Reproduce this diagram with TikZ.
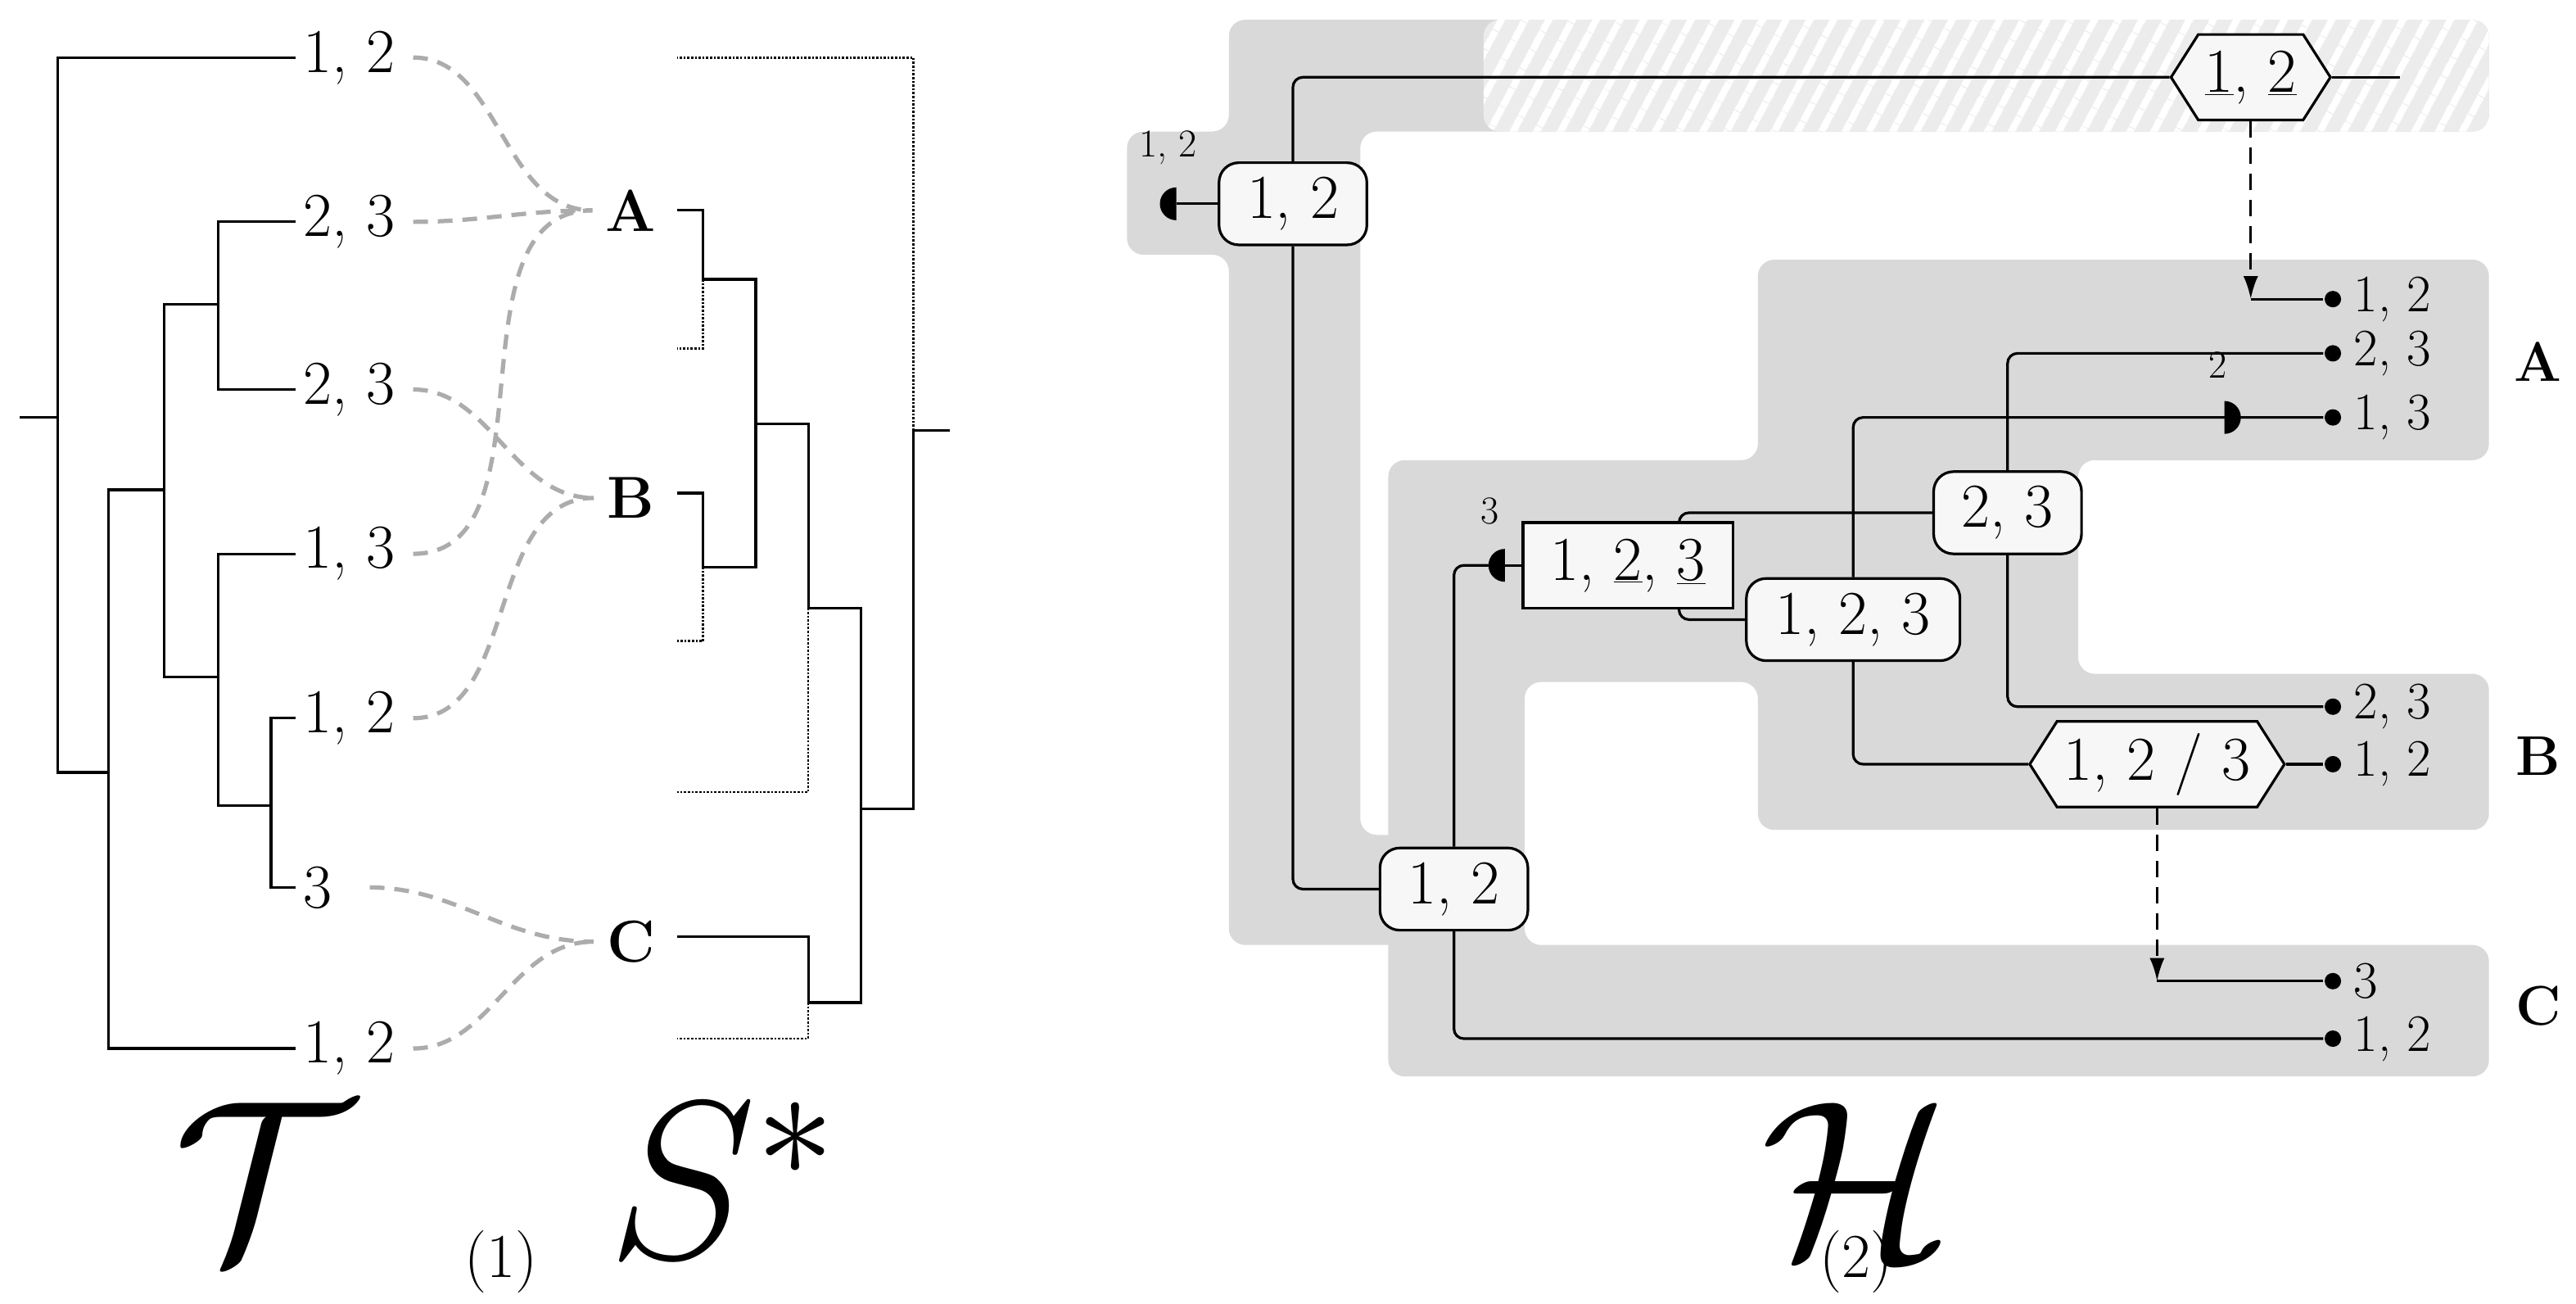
\RequirePackage{fix-cm}
\documentclass[tikz,border=0pt]{standalone}
\usepackage{graphicx}
\usetikzlibrary{shapes.symbols,patterns.meta,arrows.meta}
\definecolor{hostgray}{HTML}{D9D9D9}
\definecolor{hatchgray}{HTML}{ECECEC}
\definecolor{nodefill}{HTML}{F7F7F7}
\begin{document}
\begin{tikzpicture}[x=1pt,y=-1pt,line width=1.6pt,
  every node/.style={font=\fontsize{38}{44}\selectfont},
  small/.style={font=\fontsize{24}{30}\selectfont},
  leaf/.style={anchor=west,inner sep=4pt},
  gdash/.style={draw=gray!65,line width=2.6pt,dash pattern=on 9pt off 6pt,shorten <=6pt,shorten >=4pt},
  dot/.style={densely dotted,line width=1.3pt},
  rbox/.style={draw,fill=nodefill,rounded corners=12pt,minimum height=50pt,inner xsep=10pt},
  hexa/.style={draw,fill=nodefill,signal,signal to=east and west,signal pointer angle=115,minimum height=52pt,inner xsep=4pt},
  ln/.style={rounded corners=6pt},
  dotend/.style={circle,fill,inner sep=0pt,minimum size=10pt}]
\useasboundingbox (0,0) rectangle (1568,793);

% ---------------- panel (1) ----------------
\node[leaf] (t1) at (180,35) {1, 2};
\node[leaf] (t2) at (180,135) {2, 3};
\node[leaf] (t3) at (180,237) {2, 3};
\node[leaf] (t4) at (180,337) {1, 3};
\node[leaf] (t5) at (180,437) {1, 2};
\node[leaf] (t6) at (180,540) {3};
\node[leaf] (t7) at (180,638) {1, 2};
\coordinate (rt) at (12,254);
\coordinate (n0) at (35,254);
\coordinate (n1) at (66,470);
\coordinate (n2) at (100,298);
\coordinate (n3) at (133,185);
\coordinate (n4) at (133,412);
\coordinate (n5) at (165,490);
\draw (rt) -- (n0);
\draw (t1.west) -| (n0);
\draw (n0) |- (n1);
\draw (n1) |- (t7.west);
\draw (n1) |- (n2);
\draw (n2) |- (n3);
\draw (n2) |- (n4);
\draw (n3) |- (t2.west);
\draw (n3) |- (t3.west);
\draw (n4) |- (t4.west);
\draw (n4) |- (n5);
\draw (n5) |- (t5.west);
\draw (n5) |- (t6.west);

\node[font=\bfseries\fontsize{36}{44}\selectfont] (A) at (384,128) {A};
\node[font=\bfseries\fontsize{36}{44}\selectfont] (B) at (384,303) {B};
\node[font=\bfseries\fontsize{36}{44}\selectfont] (C) at (384,573) {C};

\draw[gdash] (t1.east) to[out=0,in=180] (A.west);
\draw[gdash] (t2.east) to[out=0,in=180] (A.west);
\draw[gdash] (t3.east) to[out=0,in=180] (B.west);
\draw[gdash] (t4.east) to[out=0,in=180] (A.west);
\draw[gdash] (t5.east) to[out=0,in=180] (B.west);
\draw[gdash] ([xshift=12pt]t6.east) to[out=0,in=180] (C.west);
\draw[gdash] (t7.east) to[out=0,in=180] (C.west);

% S* tree
\coordinate (sA) at (412,128);
\coordinate (sB) at (412,300);
\coordinate (sC) at (412,570);
\coordinate (a1) at (428,170);
\coordinate (b1) at (428,345);
\coordinate (q1) at (460,258);
\coordinate (q2) at (492,370);
\coordinate (c1) at (492,610);
\coordinate (q3) at (524,492);
\coordinate (q4) at (556,262);
\coordinate (q5) at (578,262);
\coordinate (dA) at (412,212);
\coordinate (dB) at (412,390);
\coordinate (dq) at (412,482);
\coordinate (dC) at (412,632);
\coordinate (dT) at (412,35);
\draw (sA) -| (a1);
\draw (sB) -| (b1);
\draw (sC) -| (c1);
\draw (a1) -| (q1);
\draw (b1) -| (q1);
\draw (q1) -| (q2);
\draw (q2) -| (q3);
\draw (c1) -| (q3);
\draw (q3) -| (q4);
\draw (q4) -- (q5);
\draw[dot] (a1) |- (dA);
\draw[dot] (b1) |- (dB);
\draw[dot] (q2) |- (dq);
\draw[dot] (c1) |- (dC);
\draw[dot] (q4) |- (dT);

\node (lT) at (160,718) {\scalebox{3.6}{$\mathcal{T}$}};
\node (lS) at (440,718) {\scalebox{3.6}{$S^{*}$}};
\node (l1) at (305,768) {(1)};

% ---------------- panel (2) ----------------
\fill[hostgray,rounded corners=10pt]
  (748,12) -- (1515,12) -- (1515,80) -- (828,80) -- (828,508) -- (860,508) -- (860,575)
  -- (748,575) -- (748,155) -- (686,155) -- (686,80) -- (748,80) -- cycle;
\fill[hatchgray,rounded corners=10pt] (903,12) -- (1515,12) -- (1515,80) -- (903,80) -- cycle;
\begin{scope}
\clip[rounded corners=10pt] (903,12) -- (1515,12) -- (1515,80) -- (903,80) -- cycle;
\fill[pattern={Lines[angle=62,distance=13pt,line width=4.5pt]},pattern color=white] (903,12) rectangle (1515,80);
\end{scope}
\fill[hostgray,rounded corners=10pt]
  (845,280) -- (1070,280) -- (1070,158) -- (1515,158) -- (1515,280) -- (1265,280)
  -- (1265,410) -- (1515,410) -- (1515,505) -- (1070,505) -- (1070,415) -- (928,415)
  -- (928,575) -- (1515,575) -- (1515,655) -- (845,655) -- cycle;

\node[hexa] (hT) at (1370,47) {\underline{1}, \underline{2}};
\coordinate (hTe) at (1461,47);
\node[rbox,minimum width=90pt] (R1) at (787,124) {1, 2};
\node[rbox,minimum width=90pt] (N12) at (885,541) {1, 2};
\node[rbox,minimum width=90pt] (N23) at (1222,312) {2, 3};
\node[rbox,minimum width=130pt] (N123) at (1128,377) {1, 2, 3};
\node[draw,fill=nodefill,minimum height=52pt,minimum width=128pt] (Bx) at (991,344) {1, \underline{2}, \underline{3}};
\node[hexa,minimum width=155pt] (hB) at (1313,465) {1, 2 / 3};

% leaves
\foreach \n/\y/\t in {dA1/182/{1, 2},dA2/215/{2, 3},dA3/254/{1, 3},dB1/430/{2, 3},dB2/465/{1, 2},dC1/597/{3},dC2/632/{1, 2}}{
  \node[dotend] (\n) at (1420,\y) {};
  \node[anchor=west,inner sep=2pt,font=\fontsize{32}{36}\selectfont] (\n t) at (1430,\y) {\t};
}
\node[font=\bfseries\fontsize{34}{44}\selectfont] (rA) at (1545,220) {A};
\node[font=\bfseries\fontsize{34}{44}\selectfont] (rB) at (1545,460) {B};
\node[font=\bfseries\fontsize{34}{44}\selectfont] (rC) at (1545,612) {C};

\coordinate (L1) at (716,124);
\coordinate (L2) at (916,344);
\coordinate (L3) at (1354,254);
\coordinate (hx1) at (1370,182);
\coordinate (hx2) at (1313,597);

\draw (hT.east) -- (hTe);
\draw[ln] (hT.west) -| (R1.north);
\draw[ln] (R1.south) |- (N12.west);
\draw (R1.west) -- (L1);
\fill (L1) ++(0,10) arc (90:270:10) -- cycle;
\node[small] (lab1) at (711,90) {1, 2};

\draw[dashed,dash pattern=on 10pt off 6pt,-{Latex[length=14pt,width=9pt]}] (hT.south) -- (hx1);
\draw (hx1) -- (dA1);

\draw[ln] (N23.north) |- (dA2);
\draw[ln] (N23.south) |- (dB1);
\draw[ln] (N123.north) |- (dA3);
\fill (L3) ++(0,-10) arc (-90:90:10) -- cycle;
\node[small] (lab2) at (1350,222) {2};
\draw[ln] (N123.south) |- (hB.west);
\draw (hB.east) -- (dB2);
\draw[dashed,dash pattern=on 10pt off 6pt,-{Latex[length=14pt,width=9pt]}] (hB.south) -- (hx2);
\draw (hx2) -- (dC1);

\draw[ln] ([xshift=31pt]Bx.north) |- (N23.west);
\draw[ln] ([xshift=31pt]Bx.south) |- (N123.west);
\draw[ln] (N12.north) |- (L2);
\draw (L2) -- (Bx.west);
\fill (L2) ++(0,10) arc (90:270:10) -- cycle;
\node[small] (lab3) at (907,311) {3};
\draw[ln] (N12.south) |- (dC2);

\node (lH) at (1130,718) {\scalebox{3.6}{$\mathcal{H}$}};
\node (l2) at (1130,768) {(2)};
\end{tikzpicture}
\end{document}
